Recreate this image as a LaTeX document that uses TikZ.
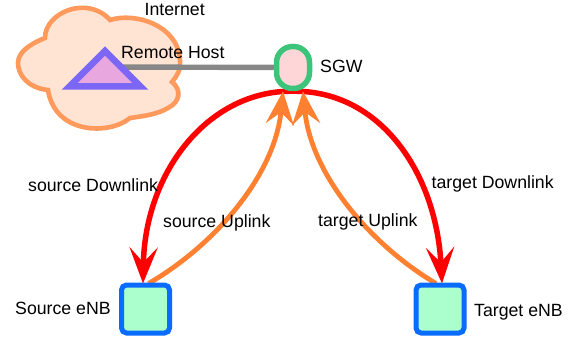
\documentclass[tikz,border=0pt]{standalone}
\usepackage{fontspec}
\setmainfont{Liberation Sans}
\usetikzlibrary{arrows.meta,backgrounds}
\definecolor{cloudline}{HTML}{FF9A5C}
\definecolor{cloudfill}{HTML}{FFE3D3}
\definecolor{triline}{HTML}{7B66F5}
\definecolor{trifill}{HTML}{E8A8DF}
\definecolor{sgwline}{HTML}{3CC47A}
\definecolor{sgwfill}{HTML}{FFD6D8}
\definecolor{enbline}{HTML}{0A6CFF}
\definecolor{enbfill}{HTML}{AAFFCC}
\definecolor{upl}{HTML}{FF8030}
\tikzset{
 x=1pt,y=-1pt,
 lbl/.style={font=\fontsize{17.7}{20}\selectfont,inner sep=0pt,text=black},
 enb/.style={draw=enbline,fill=enbfill,line width=5pt,rounded corners=5pt,minimum size=48pt,inner sep=0pt},
 down/.style={draw=red,line width=5.5pt,-{Stealth[length=36pt,width=28pt,inset=15pt]}},
 up/.style={draw=upl,line width=4.8pt,-{Stealth[length=33pt,width=28pt,inset=12pt]}},
}
\begin{document}
\begin{tikzpicture}
\useasboundingbox (0,0) rectangle (588,339);
% nodes
\node[draw=sgwline,fill=sgwfill,line width=5.5pt,rounded corners=16pt,minimum width=33pt,minimum height=42pt,inner sep=0pt] (sgw) at (293,67.5) {};
\node[enb] (src) at (145.5,309) {};
\node[enb] (tgt) at (440,309) {};
\coordinate (host) at (105,67);
\begin{pgfonlayer}{background}
% cloud
\draw[draw=cloudline,fill=cloudfill,line width=4.6pt]
 (45,38) .. controls (45,12) and (88,-5) .. (110,20)
 .. controls (135,12) and (178,25) .. (180,60)
 .. controls (181,70) and (177,76) .. (172,82)
 .. controls (182,90) and (180,102) .. (168,108)
 .. controls (158,114) and (145,116) .. (130,118)
 .. controls (110,135) and (55,135) .. (48,90)
 .. controls (28,88) and (18,75) .. (18,63)
 .. controls (18,50) and (35,42) .. (45,38) -- cycle;
\draw[draw=black!47,line width=5.4pt] (host) -- (sgw);
% connectors
\draw[down] (sgw.south) .. controls (210,90) and (145,170) .. ([xshift=-2.5pt,yshift=-1pt]src.north);
\draw[down] (sgw.south) .. controls (378,90) and (436,170) .. ([xshift=2pt,yshift=-1pt]tgt.north);
\draw[up] ([xshift=3pt,yshift=-1pt]src.north) .. controls (215,245) and (275,175) .. ([xshift=-10pt]sgw.south);
\draw[up] ([xshift=-4pt,yshift=-1pt]tgt.north) .. controls (371,245) and (311,175) .. ([xshift=10pt]sgw.south);
\end{pgfonlayer}
\draw[draw=triline,fill=trifill,line width=6.5pt,miter limit=10] (105,51) -- (69.5,86.5) -- (140.5,86.5) -- cycle;
% labels
\node[lbl,anchor=base west] (internet) at (144.5,16) {Internet};
\node[lbl,anchor=base west] (rh) at (121,59) {Remote Host};
\node[lbl,anchor=base west] (sgwl) at (320,73) {SGW};
\node[lbl,anchor=base west] (sd) at (28,191) {source Downlink};
\node[lbl,anchor=base west] (su) at (163,227) {source Uplink};
\node[lbl,anchor=base west] (tu) at (318,226) {target Uplink};
\node[lbl,anchor=base west] (td) at (431.5,188) {target Downlink};
\node[lbl,anchor=base west] (sl) at (15,314) {Source eNB};
\node[lbl,anchor=base west] (tl) at (474,316) {Target eNB};
\end{tikzpicture}
\end{document}
